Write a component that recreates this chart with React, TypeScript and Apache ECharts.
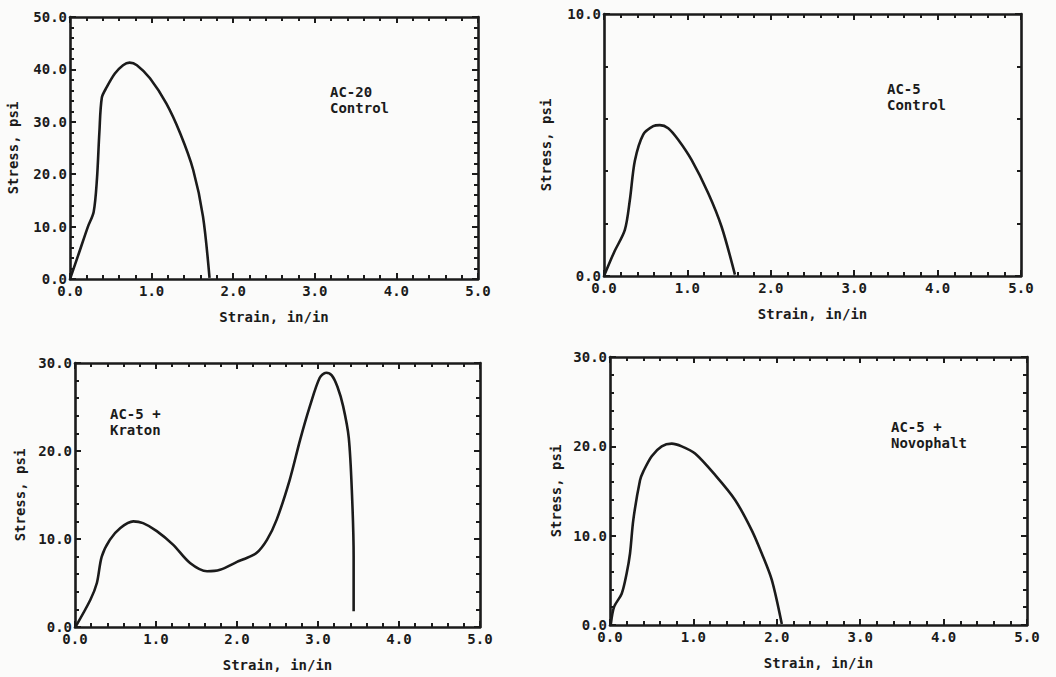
import React, { useEffect, useRef } from "react";
import * as echarts from "echarts";

const ac20Strain = [0.0, 0.1, 0.22, 0.29, 0.33, 0.36, 0.39, 0.45, 0.55, 0.65, 0.73, 0.82, 0.98, 1.18, 1.35, 1.51, 1.63, 1.71];
const ac20Stress = [0.0, 4.5, 10.0, 12.8, 19.0, 28.0, 34.6, 36.6, 39.2, 40.8, 41.3, 40.8, 38.3, 33.5, 27.8, 20.8, 11.9, 0.2];

const ac5Strain = [0.0, 0.12, 0.25, 0.31, 0.37, 0.47, 0.59, 0.67, 0.77, 0.89, 1.05, 1.25, 1.41, 1.57];
const ac5Stress = [0.0, 0.9, 1.76, 2.9, 4.4, 5.4, 5.72, 5.76, 5.64, 5.2, 4.43, 3.16, 1.88, 0.05];

const kratonStrain = [0.01, 0.19, 0.27, 0.33, 0.43, 0.56, 0.72, 0.84, 1.01, 1.21, 1.42, 1.63, 1.79, 2.0, 2.08, 2.24, 2.37, 2.49, 2.65, 2.78, 2.9, 3.02, 3.1, 3.17, 3.24, 3.31, 3.38, 3.42, 3.44, 3.44];
const kratonStress = [0.08, 3.1, 5.0, 8.0, 9.9, 11.25, 12.0, 11.8, 10.9, 9.36, 7.27, 6.33, 6.5, 7.4, 7.7, 8.4, 9.9, 12.2, 16.7, 21.3, 25.1, 28.3, 28.9, 28.6, 27.3, 25.1, 21.5, 15.0, 8.0, 1.8];

const novophaltStrain = [0.01, 0.05, 0.14, 0.2, 0.24, 0.28, 0.36, 0.4, 0.5, 0.62, 0.74, 0.86, 1.02, 1.26, 1.5, 1.7, 1.82, 1.94, 2.06];
const novophaltStress = [0.1, 2.05, 3.5, 5.8, 8.0, 11.8, 16.2, 17.2, 18.9, 20.0, 20.3, 20.0, 19.2, 16.8, 14.0, 10.6, 8.0, 5.04, 0.1];

const panelTitles = ["AC-20\nControl", "AC-5\nControl", "AC-5 +\nKraton", "AC-5 +\nNovophalt"];
const stressMax = [50, 10, 30, 30];
const strainMax = 5;
const xTitle = "Strain, in/in";
const yTitle = "Stress, psi";

const FONT = "DejaVu Sans Mono";
const INK = "#1b1b1b";

function zip(xs: number[], ys: number[]) {
  return xs.map((x, i) => [x, ys[i]]);
}

export default function App() {
  const ref = useRef<HTMLDivElement>(null);
  useEffect(() => {
    if (!ref.current) return;
    const chart = echarts.init(ref.current, null, { renderer: "svg" });
    const grids = [
      { left: 70, top: 17, width: 408, height: 262 },
      { left: 604, top: 14, width: 417, height: 262 },
      { left: 75, top: 363, width: 405, height: 264 },
      { left: 610, top: 357, width: 417, height: 268 },
    ];
    const yNameGap = [50, 51, 48, 47];
    const titlePos = [
      [330, 84],
      [887, 81],
      [110, 406],
      [891, 419],
    ];
    const datasets = [
      zip(ac20Strain, ac20Stress),
      zip(ac5Strain, ac5Stress),
      zip(kratonStrain, kratonStress),
      zip(novophaltStrain, novophaltStress),
    ];
    const line = { show: true, onZero: false, lineStyle: { color: INK, width: 2.6 } };
    const tick = { show: true, inside: true, length: 6, lineStyle: { color: INK, width: 2 } };
    const minor = { show: true, splitNumber: 5, length: 4, lineStyle: { color: INK, width: 2 } };
    const labelStyle = { fontFamily: FONT, fontWeight: "bold" as const, fontSize: 14, color: INK };
    const nameStyle = { fontFamily: FONT, fontWeight: "bold" as const, fontSize: 14, color: INK };
    const xAxis: any[] = [];
    const yAxis: any[] = [];
    const series: any[] = [];
    grids.forEach((g, i) => {
      xAxis.push({
        type: "value", gridIndex: i, min: 0, max: strainMax, interval: 1, position: "bottom",
        axisLine: line, axisTick: tick, minorTick: minor, splitLine: { show: false },
        axisLabel: { ...labelStyle, margin: 5, formatter: (v: number) => v.toFixed(1) },
        name: xTitle, nameLocation: "middle", nameGap: 31, nameTextStyle: nameStyle,
      });
      xAxis.push({
        type: "value", gridIndex: i, min: 0, max: strainMax, interval: 1, position: "top",
        axisLine: line, axisTick: tick, minorTick: minor, splitLine: { show: false },
        axisLabel: { show: false },
      });
      yAxis.push({
        type: "value", gridIndex: i, min: 0, max: stressMax[i], interval: 10, position: "left",
        axisLine: line, axisTick: tick, minorTick: minor, splitLine: { show: false },
        axisLabel: { ...labelStyle, margin: 3, formatter: (v: number) => v.toFixed(1) },
        name: yTitle, nameLocation: "middle", nameGap: yNameGap[i], nameRotate: 90,
        nameTextStyle: nameStyle,
      });
      yAxis.push({
        type: "value", gridIndex: i, min: 0, max: stressMax[i], interval: 10, position: "right",
        axisLine: line, axisTick: tick, minorTick: minor, splitLine: { show: false },
        axisLabel: { show: false },
      });
      series.push({
        type: "line", xAxisIndex: i * 2, yAxisIndex: i * 2, data: datasets[i],
        showSymbol: false, smooth: 0.3, lineStyle: { color: INK, width: 2.6 },
      });
    });
    chart.setOption({
      animation: false,
      backgroundColor: "#fbfbfa",
      grid: grids,
      xAxis,
      yAxis,
      series,
      graphic: panelTitles.map((t, i) => ({
        type: "text", left: titlePos[i][0], top: titlePos[i][1],
        style: { text: t, fontFamily: FONT, fontWeight: "bold", fontSize: 14, lineHeight: 16, fill: INK },
      })),
    });
    return () => chart.dispose();
  }, []);
  return <div ref={ref} style={{ position: "fixed", left: 0, top: 0, width: 1056, height: 677 }} />;
}
